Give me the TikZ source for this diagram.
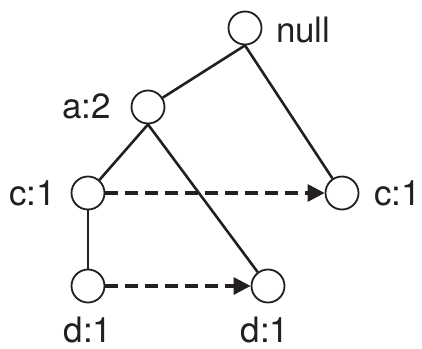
\documentclass[tikz,border=0pt]{standalone}
\usepackage{fontspec}
\setmainfont{TeX Gyre Heros}
\usetikzlibrary{arrows.meta}
\definecolor{ink}{HTML}{231F20}
\tikzset{
  every picture/.style={line width=1pt, draw=ink, text=ink, font=\fontsize{17.5}{20}\selectfont},
  item/.style={circle, draw=ink, fill=white, line width=0.9pt, minimum size=16.5pt, inner sep=0pt},
  tag/.style={inner sep=0pt},
  link/.style={draw=ink, line width=1.3pt},
  chain/.style={draw=ink, line width=1.6pt, dash pattern=on 6.5pt off 3.5pt, -{Triangle[length=8.5pt, width=8.5pt]}},
}
\begin{document}
\begin{tikzpicture}[x=0.5pt, y=-0.5pt]
\useasboundingbox (0,0) rectangle (422,348);
% tree nodes
\foreach \n/\x/\y in {null/245/28, a/148/107, c1/88/193, c2/342/193, d1/88/286, d2/268/286}
  \node[item] (\n) at (\x,\y) {};
% counts
\node[tag, anchor=base west] (tnull) at (275,42) {null};
\node[tag, anchor=base east] (ta) at (112,118) {a:2};
\node[tag, anchor=base east] (tc1) at (57,205) {c:1};
\node[tag, anchor=base west] (tc2) at (373,205) {c:1};
\node[tag, anchor=base] (td1) at (88,342) {d:1};
\node[tag, anchor=base] (td2) at (265,342) {d:1};
% tree edges
\draw[link] (null.south) -- (a);
\draw[link] (null.south) -- (c2);
\draw[link] (a.south) -- (c1);
\draw[link] (a.south) -- (d2);
\draw[link] (c1) -- (d1);
% node links
\draw[chain] (c1) -- (c2);
\draw[chain] (d1) -- (d2);
\end{tikzpicture}
\end{document}
